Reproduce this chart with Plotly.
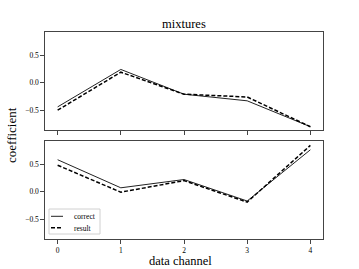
import plotly.graph_objects as go
from plotly.subplots import make_subplots

channels = [0, 1, 2, 3, 4]
top_correct = [-0.44, 0.24, -0.21, -0.33, -0.80]
top_result = [-0.50, 0.19, -0.21, -0.26, -0.80]
bot_correct = [0.58, 0.07, 0.22, -0.17, 0.76]
bot_result = [0.48, -0.01, 0.20, -0.19, 0.84]
xticks = [0, 1, 2, 3, 4]
yticks = [-0.5, 0.0, 0.5]
yticklabels = ["\u22120.5", "0.0", "0.5"]
series_names = ["correct", "result"]

W, H = 359, 269
L, R, T, B = 45, 323, 32, 239
pw, ph = R - L, B - T


def px(x):
    return (x - L) / pw


def py(y):
    return (B - y) / ph


font = "Liberation Serif, DejaVu Serif, serif"
solid = dict(color="#222", width=1)
dashed = dict(color="#000", width=1.5, dash="4px,2px")

fig = make_subplots(rows=2, cols=1, shared_xaxes=False, vertical_spacing=0.0)

fig.add_trace(go.Scatter(x=channels, y=top_correct, mode="lines", name=series_names[0],
                         line=solid, showlegend=False), row=1, col=1)
fig.add_trace(go.Scatter(x=channels, y=top_result, mode="lines", name=series_names[1],
                         line=dashed, showlegend=False), row=1, col=1)
fig.add_trace(go.Scatter(x=channels, y=bot_correct, mode="lines", name=series_names[0],
                         line=solid, showlegend=False), row=2, col=1)
fig.add_trace(go.Scatter(x=channels, y=bot_result, mode="lines", name=series_names[1],
                         line=dashed, showlegend=False), row=2, col=1)

axis_common = dict(showgrid=False, zeroline=False, showline=True, mirror=True,
                   linecolor="#444", linewidth=1.3, ticks="outside", ticklen=3.5,
                   tickcolor="#444", tickwidth=0.8,
                   tickfont=dict(family=font, size=7.5, color="#000"))

fig.update_xaxes(range=[-0.2, 4.2], tickvals=xticks, **axis_common)
fig.update_xaxes(showticklabels=False, row=1, col=1)
fig.update_yaxes(range=[-0.86, 0.92], tickvals=yticks, ticktext=yticklabels, **axis_common)
fig.update_layout(yaxis=dict(domain=[py(130), 1.0]), yaxis2=dict(domain=[0.0, py(141)]))

# compact matplotlib-style legend
shapes = [
    dict(type="rect", xref="paper", yref="paper", x0=px(49), x1=px(100), y0=py(234), y1=py(209),
         line=dict(color="#d0d0d0", width=1), fillcolor="rgba(255,255,255,0.8)", layer="above"),
    dict(type="line", xref="paper", yref="paper", x0=px(51), x1=px(63), y0=py(216.3), y1=py(216.3),
         line=solid, layer="above"),
    dict(type="line", xref="paper", yref="paper", x0=px(51), x1=px(63), y0=py(227.7), y1=py(227.7),
         line=dashed, layer="above"),
]

annotations = [
    dict(text="mixtures", x=px((L + R) / 2), y=py(24), xref="paper", yref="paper",
         showarrow=False, font=dict(family=font, size=12.5), xanchor="center", yanchor="middle"),
    dict(text="data channel", x=px(180), y=py(260.5), xref="paper", yref="paper",
         showarrow=False, font=dict(family=font, size=12.5), xanchor="center", yanchor="middle"),
    dict(text="coefficient", x=px(11), y=py(135), xref="paper", yref="paper",
         showarrow=False, textangle=-90, font=dict(family=font, size=13),
         xanchor="center", yanchor="middle"),
    dict(text=series_names[0], x=px(72), y=py(216), xref="paper", yref="paper",
         showarrow=False, font=dict(family=font, size=7.5), xanchor="left", yanchor="middle"),
    dict(text=series_names[1], x=px(72), y=py(228), xref="paper", yref="paper",
         showarrow=False, font=dict(family=font, size=7.5), xanchor="left", yanchor="middle"),
]

fig.update_layout(
    width=W, height=H,
    margin=dict(l=L, r=W - R, t=T, b=H - B, pad=0),
    paper_bgcolor="white", plot_bgcolor="white",
    font=dict(family=font, color="#000"),
    showlegend=False,
    shapes=shapes,
    annotations=annotations,
)

fig.write_html("out.html", config={"displayModeBar": False},
               post_script="document.body.style.margin='0';")
